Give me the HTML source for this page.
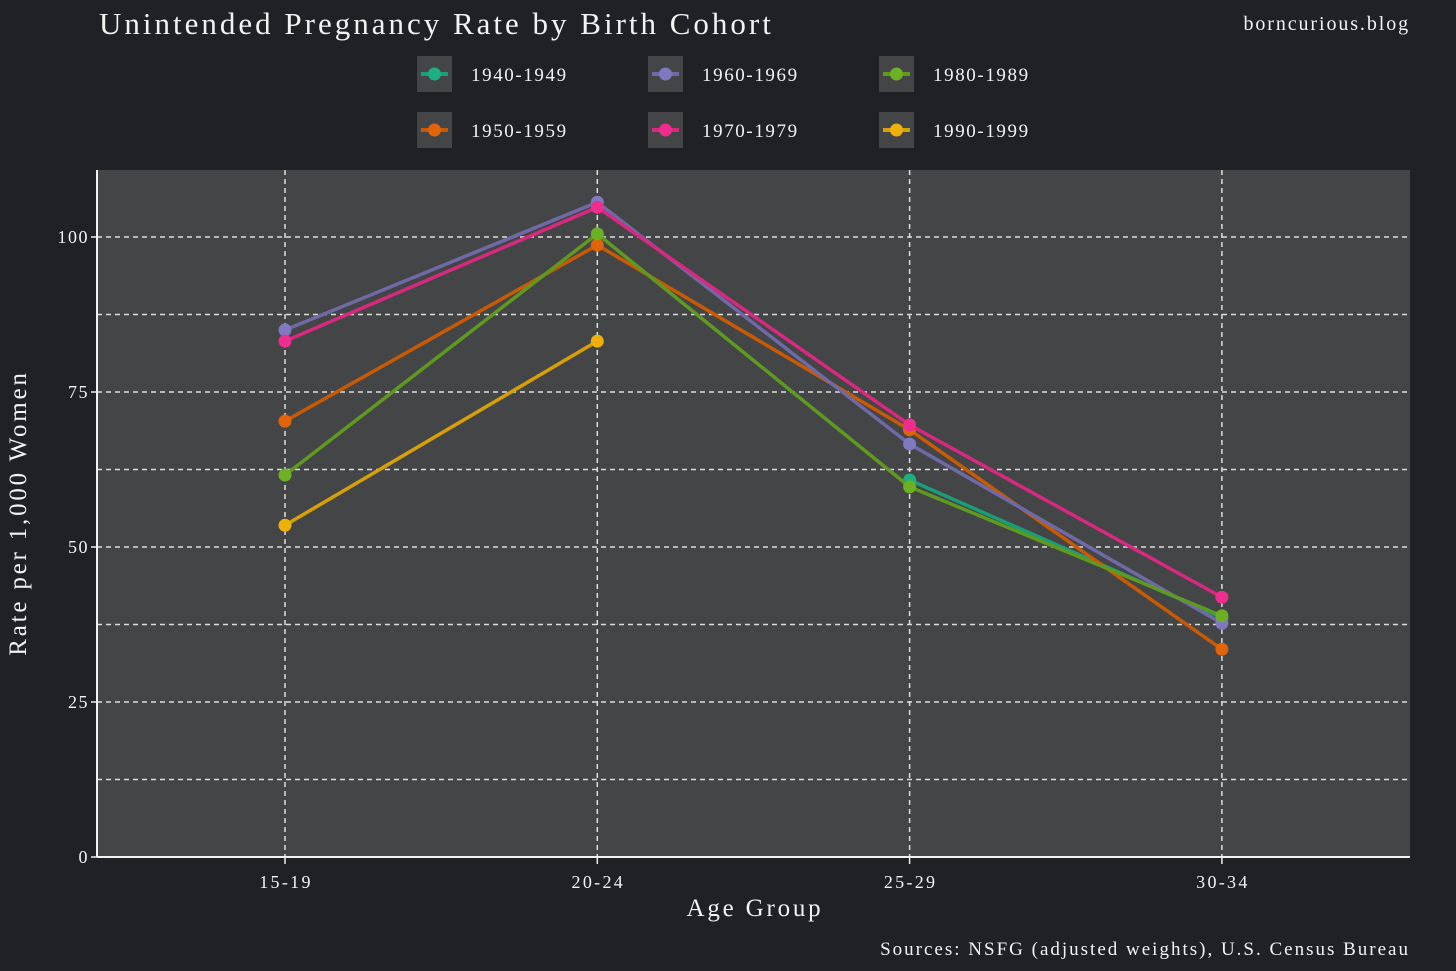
<!DOCTYPE html>
<html><head><meta charset="utf-8"><style>
html,body{margin:0;padding:0;background:#202124;}
svg{display:block;font-family:"Liberation Serif",serif;}
</style></head><body>
<svg id="chart" width="1456" height="971" viewBox="0 0 1456 971">
<rect x="0" y="0" width="1456" height="971" fill="#202124"/>
<text x="99" y="34" font-size="31" letter-spacing="3" fill="#f2f2f2">Unintended Pregnancy Rate by Birth Cohort</text>
<text x="1410" y="30" font-size="20" letter-spacing="1.9" fill="#f2f2f2" text-anchor="end">borncurious.blog</text>
<rect x="97" y="170" width="1313" height="687" fill="#444547"/>
<g id="grid"></g>
<g id="axes"></g>
<g id="series"></g>
<g id="legend"></g>
<text x="755" y="916" font-size="25" letter-spacing="2.8" fill="#f2f2f2" text-anchor="middle">Age Group</text>
<text transform="translate(26,513) rotate(-90)" font-size="25" letter-spacing="2.8" fill="#f2f2f2" text-anchor="middle">Rate per 1,000 Women</text>
<text x="1410" y="955" font-size="19" letter-spacing="2" fill="#f2f2f2" text-anchor="end">Sources: NSFG (adjusted weights), U.S. Census Bureau</text>
</svg>
<script>
const categories = ["15-19","20-24","25-29","30-34"];
const seriesNames = ["1940-1949","1950-1959","1960-1969","1970-1979","1980-1989","1990-1999"];
const s1940 = [null,null,60.8,38.6];
const s1950 = [70.3,98.7,68.9,33.5];
const s1960 = [85.0,105.6,66.6,37.7];
const s1970 = [83.2,104.8,69.7,41.9];
const s1980 = [61.6,100.5,59.7,38.9];
const s1990 = [53.5,83.2,null,null];
const yTicks = [0,25,50,75,100];
const yMinor = [12.5,37.5,62.5,87.5];

const seriesValues=[s1940,s1950,s1960,s1970,s1980,s1990];
const lineColors=["#1b9e77","#c95a05","#6f6aa6","#d6297f","#60991f","#d6a007"];
const ptColors=["#1fae84","#e2640a","#8079c2","#ee2d8e","#6db024","#eeb109"];
const NS="http://www.w3.org/2000/svg";
const X0=97,X1=1410,Y0=857,YT=170;
const xs=i=>285+i*312.3;
const ys=v=>Y0-v*6.2;
function el(tag,attrs,parent){const e=document.createElementNS(NS,tag);for(const k in attrs)e.setAttribute(k,attrs[k]);parent.appendChild(e);return e;}
const grid=document.getElementById('grid'),axes=document.getElementById('axes'),ser=document.getElementById('series'),leg=document.getElementById('legend');
yTicks.concat(yMinor).forEach(v=>{
  if(v===0)return;
  const l=el('line',{x1:X0,x2:X1,y1:ys(v),y2:ys(v),stroke:'#dddddd','stroke-width':1.5,'stroke-dasharray':'5,4'},grid);
  
  
});
categories.forEach((c,i)=>{
  const l=el('line',{x1:xs(i),x2:xs(i),y1:YT,y2:Y0,stroke:'#dddddd','stroke-width':1.5,'stroke-dasharray':'5,4'},grid);
  
  
  el('line',{x1:xs(i),x2:xs(i),y1:Y0,y2:Y0+7,stroke:'#eee','stroke-width':1.5},axes);
  const t=el('text',{x:xs(i)+1,y:Y0+31,'font-size':18,'letter-spacing':2.3,fill:'#f2f2f2','text-anchor':'middle'},axes);
  t.textContent=c;
  
  
});
yTicks.forEach(v=>{
  el('line',{x1:X0-6,x2:X0,y1:ys(v),y2:ys(v),stroke:'#eee','stroke-width':1.5},axes);
  const t=el('text',{x:X0-8,y:ys(v)+6,'font-size':18,'letter-spacing':1.5,fill:'#f2f2f2','text-anchor':'end'},axes);
  t.textContent=v;
  
  
});
el('line',{x1:X0,x2:X0,y1:YT,y2:Y0,stroke:'#f2f2f2','stroke-width':2},axes);
el('line',{x1:X0,x2:X1,y1:Y0,y2:Y0,stroke:'#f2f2f2','stroke-width':2},axes);
seriesValues.forEach((vals,si)=>{
  const g=el('g',{},ser);
  
  
  let pts=[];
  vals.forEach((v,i)=>{if(v!=null)pts.push([xs(i),ys(v)]);});
  const p=el('polyline',{points:pts.map(p=>p.join(',')).join(' '),fill:'none',stroke:lineColors[si],'stroke-width':3.5},g);
  
  
  pts.forEach(q=>{
    const c=el('circle',{cx:q[0],cy:q[1],r:6.5,fill:ptColors[si]},g);
    
    
  });
});
seriesNames.forEach((n,i)=>{
  const col=Math.floor(i/2),row=i%2;
  const bx=417+col*231,by=56+row*56;
  const g=el('g',{},leg);
  
  
  el('rect',{x:bx,y:by,width:35,height:36,fill:'#444547'},g);
  el('line',{x1:bx+4,x2:bx+31,y1:by+18,y2:by+18,stroke:lineColors[i],'stroke-width':4},g);
  el('circle',{cx:bx+17.5,cy:by+18,r:6.5,fill:ptColors[i]},g);
  const t=el('text',{x:bx+54,y:by+25,'font-size':19,'letter-spacing':1.6,fill:'#f2f2f2'},g);
  t.textContent=n;
});
</script>
</body></html>
